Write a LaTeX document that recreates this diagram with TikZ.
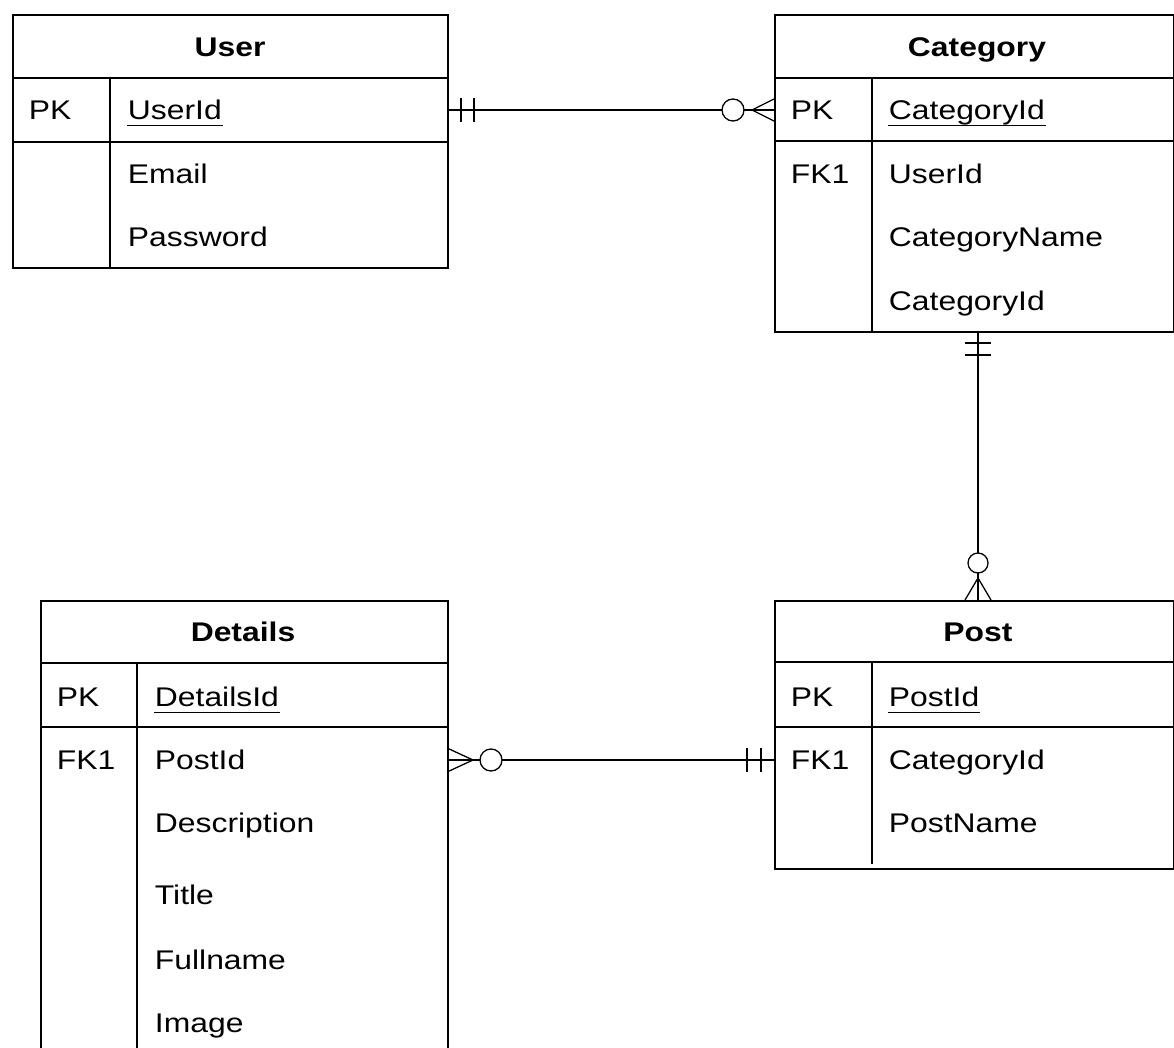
\documentclass[tikz,border=0pt]{standalone}
\usepackage{fontspec}
\setmainfont{Liberation Sans}[FakeStretch=1.18]
\tikzset{
  tbl/.style={draw, line width=1.9pt, anchor=north west, inner sep=0pt},
  txt/.style={anchor=west, inner sep=0pt, text height=19pt, text depth=0pt,
    font=\fontsize{27}{30}\selectfont},
  ttl/.style={txt, anchor=center, font=\fontsize{27}{30}\selectfont\bfseries},
  uline/.style={line width=1.4pt},
  rel/.style={line width=1.8pt},
  foot/.style={line width=1.3pt},
}
\begin{document}
\begin{tikzpicture}[x=1pt, y=-1pt, line width=1.9pt]
    \useasboundingbox (0,0) rectangle (1174,1048);
    \clip (0,0) rectangle (1174,1048);
    % tables
    \node[tbl, minimum width=435, minimum height=253] (user) at (12,14) {};
    \node[tbl, minimum width=399, minimum height=317] (cat) at (774,14) {};
    \node[tbl, minimum width=407, minimum height=470] (det) at (40,600) {};
    \node[tbl, minimum width=399, minimum height=268] (post) at (774,600) {};
    \draw (12,78) -- (447,78);
    \draw (12,142) -- (447,142);
    \draw (110,78) -- (110,267);
    \draw (774,78) -- (1173,78);
    \draw (774,141) -- (1173,141);
    \draw (872,78) -- (872,331);
    \draw (40,663) -- (447,663);
    \draw (40,727) -- (447,727);
    \draw (137,663) -- (137,1070);
    \draw (774,662) -- (1173,662);
    \draw (774,727) -- (1173,727);
    \draw (872,662) -- (872,864);
    % User
    \node[ttl] (usert) at (230,47) {User};
    \node[txt] (upk) at (28,110) {PK};
    \node[txt] (uid) at (127,110) {UserId};
    \node[txt] (uemail) at (127,174) {Email};
    \node[txt] (upass) at (127,237) {Password};
    % Category
    \node[ttl] (catt) at (977,47) {Category};
    \node[txt] (cpk) at (790,110) {PK};
    \node[txt] (cid) at (888,110) {CategoryId};
    \node[txt] (cfk) at (790,174) {FK1};
    \node[txt] (cuid) at (888,174) {UserId};
    \node[txt] (cname) at (888,237) {CategoryName};
    \node[txt] (ccid) at (888,301) {CategoryId};
    % Details
    \node[ttl] (dett) at (243,632) {Details};
    \node[txt] (dpk) at (56,697) {PK};
    \node[txt] (did) at (154,697) {DetailsId};
    \node[txt] (dfk) at (56,760) {FK1};
    \node[txt] (dpid) at (154,760) {PostId};
    \node[txt] (ddesc) at (154,823) {Description};
    \node[txt] (dtitle) at (154,895) {Title};
    \node[txt] (dfull) at (154,960) {Fullname};
    \node[txt] (dimg) at (154,1023) {Image};
    % Post
    \node[ttl] (postt) at (978,632) {Post};
    \node[txt] (ppk) at (790,697) {PK};
    \node[txt] (pid) at (888,697) {PostId};
    \node[txt] (pfk) at (790,760) {FK1};
    \node[txt] (pcid) at (888,760) {CategoryId};
    \node[txt] (pname) at (888,823) {PostName};
    \foreach \n in {uid,cid,did,pid}
        \draw[uline] ([yshift=-5pt]\n.south west) -- ([yshift=-5pt]\n.south east);
    % relations
    \draw[rel] (user.east |- upk) -- (cat.west |- cpk);
    \draw[rel] (461,98) -- (461,122);
    \draw[rel] (474,98) -- (474,122);
    \draw[foot, fill=white] (733,110) circle (11);
    \draw[foot] (774,99) -- (752,110) -- (774,121);
    \draw[rel] (cat.south -| postt) -- (post.north -| postt);
    \draw[rel] (965,343) -- (991,343);
    \draw[rel] (965,355) -- (991,355);
    \draw[foot, fill=white] (978,563) circle (10);
    \draw[foot] (965,600) -- (978,578) -- (991,600);
    \draw[rel] (det.east |- dfk) -- (post.west |- pfk);
    \draw[foot] (447,748) -- (473,760) -- (447,772);
    \draw[foot, fill=white] (491,760) circle (11);
    \draw[rel] (747,748) -- (747,772);
    \draw[rel] (761,748) -- (761,772);
\end{tikzpicture}
\end{document}
